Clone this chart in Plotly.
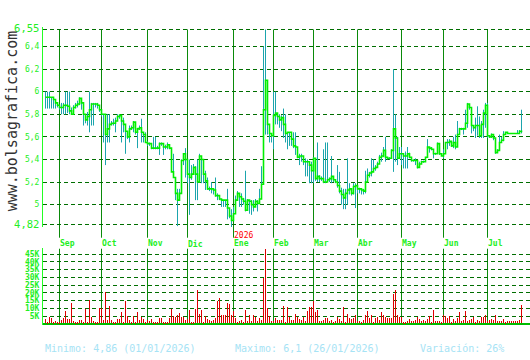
import plotly.graph_objects as go

# ---------------- data ----------------
close = [5.95, 5.95, 5.95, 5.95, 5.93, 5.90, 5.88, 5.86, 5.86, 5.88,
         5.88, 5.87, 5.83, 5.80, 5.86, 5.88, 5.89, 5.94, 5.90, 5.80,
         5.75, 5.78, 5.84, 5.89, 5.89, 5.89, 5.88, 5.84, 5.80, 5.80,
         5.62, 5.67, 5.71, 5.72, 5.72, 5.74, 5.78, 5.79, 5.74, 5.71,
         5.65, 5.60, 5.67, 5.68, 5.73, 5.64, 5.67, 5.68, 5.64, 5.62,
         5.55, 5.54, 5.54, 5.50, 5.50, 5.50, 5.50, 5.54, 5.54, 5.51,
         5.51, 5.53, 5.50, 5.29, 5.24, 5.10, 5.04, 5.10, 5.39, 5.45,
         5.40, 5.27, 5.24, 5.27, 5.33, 5.27, 5.20, 5.43, 5.40, 5.27,
         5.21, 5.14, 5.14, 5.14, 5.13, 5.08, 5.08, 5.05, 5.04, 5.04,
         5.04, 4.97, 4.90, 4.86, 4.92, 5.04, 5.10, 5.07, 5.05, 5.03,
         4.95, 5.04, 5.03, 5.00, 4.98, 5.03, 5.01, 5.05, 5.18, 5.84,
         6.10, 5.71, 5.63, 5.61, 5.79, 5.81, 5.78, 5.75, 5.77, 5.71,
         5.63, 5.64, 5.64, 5.58, 5.52, 5.51, 5.42, 5.43, 5.43, 5.38,
         5.38, 5.38, 5.35, 5.30, 5.41, 5.23, 5.25, 5.23, 5.23, 5.20,
         5.20, 5.22, 5.23, 5.25, 5.22, 5.20, 5.17, 5.12, 5.09, 5.06,
         5.10, 5.13, 5.14, 5.10, 5.16, 5.17, 5.14, 5.14, 5.13, 5.12,
         5.20, 5.26, 5.28, 5.29, 5.32, 5.33, 5.36, 5.42, 5.43, 5.48,
         5.42, 5.41, 5.41, 5.48, 5.67, 5.59, 5.41, 5.45, 5.45, 5.43,
         5.43, 5.45, 5.42, 5.39, 5.39, 5.39, 5.33, 5.36, 5.38, 5.38,
         5.42, 5.51, 5.50, 5.49, 5.45, 5.45, 5.54, 5.45, 5.43, 5.45,
         5.55, 5.55, 5.56, 5.52, 5.55, 5.51, 5.62, 5.67, 5.67, 5.67,
         5.72, 5.89, 5.86, 5.70, 5.68, 5.70, 5.70, 5.61, 5.71, 5.81,
         5.88, 5.61, 5.60, 5.62, 5.59, 5.46, 5.48, 5.55, 5.57, 5.62,
         5.64, 5.63, 5.63, 5.63, 5.63, 5.63, 5.63, 5.65, 5.64]

high = [6.00, 6.00, 6.00, 5.95, 5.95, 5.90, 5.90, 5.88, 5.90, 5.90,
        6.00, 6.00, 6.00, 5.86, 5.88, 5.90, 5.92, 5.95, 5.94, 5.84,
        5.80, 5.82, 6.00, 5.90, 5.90, 5.90, 5.90, 5.88, 5.82, 5.80,
        5.80, 5.80, 5.80, 5.74, 5.76, 5.77, 5.80, 5.80, 5.74, 5.77,
        5.70, 5.64, 5.70, 5.70, 5.74, 5.66, 5.68, 5.70, 5.76, 5.64,
        5.64, 5.56, 5.55, 5.52, 5.60, 5.60, 5.52, 5.55, 5.55, 5.52,
        5.53, 5.55, 5.52, 5.45, 5.45, 5.10, 5.14, 5.14, 5.40, 5.45,
        5.50, 5.33, 5.40, 5.35, 5.36, 5.34, 5.40, 5.45, 5.40, 5.30,
        5.30, 5.24, 5.16, 5.20, 5.14, 5.24, 5.10, 5.07, 5.04, 5.04,
        5.04, 5.14, 4.96, 4.96, 4.98, 5.08, 5.12, 5.10, 5.10, 5.06,
        5.30, 5.05, 5.04, 5.04, 5.04, 5.05, 5.04, 5.14, 5.34, 6.40,
        6.55, 5.85, 5.65, 5.62, 6.00, 6.00, 5.81, 5.80, 5.79, 5.85,
        5.80, 5.64, 5.64, 5.64, 5.64, 5.64, 5.49, 5.45, 5.45, 5.41,
        5.41, 5.40, 5.35, 5.38, 5.42, 5.41, 5.55, 5.26, 5.25, 5.49,
        5.55, 5.55, 5.24, 5.43, 5.24, 5.22, 5.35, 5.29, 5.15, 5.14,
        5.14, 5.41, 5.19, 5.14, 5.19, 5.19, 5.16, 5.15, 5.14, 5.14,
        5.30, 5.32, 5.29, 5.41, 5.40, 5.35, 5.38, 5.44, 5.46, 5.51,
        5.60, 5.42, 5.42, 5.49, 6.20, 5.80, 5.60, 5.51, 5.51, 5.45,
        5.47, 5.51, 5.46, 5.41, 5.40, 5.41, 5.39, 5.38, 5.39, 5.39,
        5.42, 5.58, 5.51, 5.51, 5.48, 5.46, 5.55, 5.46, 5.45, 5.49,
        5.55, 5.58, 5.58, 5.53, 5.60, 5.62, 5.74, 5.68, 5.68, 5.68,
        5.84, 5.90, 5.88, 5.77, 5.70, 5.77, 5.87, 5.78, 5.74, 5.84,
        5.90, 5.90, 5.61, 5.63, 5.60, 5.59, 5.49, 5.62, 5.60, 5.65,
        5.64, 5.63, 5.63, 5.63, 5.63, 5.63, 5.66, 5.66, 5.84]

low = [5.85, 5.85, 5.85, 5.85, 5.85, 5.85, 5.86, 5.84, 5.80, 5.80,
       5.80, 5.81, 5.80, 5.80, 5.84, 5.85, 5.86, 5.88, 5.84, 5.70,
       5.72, 5.70, 5.64, 5.70, 5.70, 5.86, 5.85, 5.82, 5.78, 5.55,
       5.35, 5.55, 5.55, 5.70, 5.70, 5.64, 5.76, 5.76, 5.55, 5.64,
       5.45, 5.58, 5.55, 5.66, 5.64, 5.62, 5.50, 5.66, 5.55, 5.55,
       5.55, 5.52, 5.52, 5.49, 5.49, 5.49, 5.49, 5.44, 5.52, 5.44,
       5.49, 5.49, 5.49, 5.29, 5.24, 5.04, 4.81, 5.04, 5.24, 5.35,
       5.24, 5.19, 4.91, 5.22, 5.30, 5.04, 5.04, 5.40, 5.19, 5.19,
       5.13, 5.13, 5.12, 5.10, 5.09, 5.07, 5.04, 5.04, 4.98, 4.98,
       4.98, 4.87, 4.88, 4.80, 4.87, 4.94, 5.08, 4.98, 4.98, 5.00,
       4.94, 4.98, 4.92, 4.91, 4.94, 5.00, 4.94, 5.02, 5.05, 5.21,
       5.62, 5.62, 5.55, 5.55, 5.49, 5.71, 5.71, 5.68, 5.65, 5.59,
       5.55, 5.49, 5.52, 5.52, 5.50, 5.44, 5.41, 5.35, 5.38, 5.35,
       5.25, 5.25, 5.19, 5.19, 5.19, 5.21, 5.20, 5.20, 5.21, 5.19,
       5.19, 5.20, 5.20, 5.19, 5.20, 5.19, 5.15, 5.10, 5.00, 4.96,
       4.96, 5.00, 5.09, 5.08, 5.09, 4.97, 5.10, 5.10, 5.09, 5.09,
       5.10, 5.22, 5.24, 5.25, 5.29, 5.30, 5.35, 5.40, 5.38, 5.42,
       5.38, 5.40, 5.40, 5.41, 5.29, 5.38, 5.35, 5.41, 5.35, 5.32,
       5.32, 5.32, 5.41, 5.38, 5.38, 5.35, 5.32, 5.35, 5.37, 5.37,
       5.38, 5.48, 5.46, 5.48, 5.41, 5.44, 5.45, 5.44, 5.43, 5.41,
       5.45, 5.49, 5.52, 5.51, 5.50, 5.49, 5.55, 5.62, 5.66, 5.62,
       5.68, 5.68, 5.84, 5.63, 5.65, 5.59, 5.61, 5.59, 5.59, 5.59,
       5.68, 5.59, 5.59, 5.59, 5.57, 5.45, 5.46, 5.55, 5.55, 5.56,
       5.64, 5.63, 5.63, 5.63, 5.63, 5.63, 5.63, 5.63, 5.63]

volume_k = [2.5, 0.5, 4, 3.5, 1, 1.5, 1, 0.5, 2, 3.5,
            8, 3, 2.5, 13, 1.5, 1, 1, 2, 2, 1,
            9, 1, 15, 4, 1.5, 1, 1, 10, 10, 2,
            20.5, 2, 11, 2, 1, 1, 2.5, 2.5, 7.5, 1,
            14.5, 5, 2, 1, 5, 1, 7.5, 2, 4, 3,
            1, 2, 1.5, 2.5, 0.5, 0.5, 0.5, 3.5, 3.5, 1,
            1, 1, 3.5, 9, 4.5, 4, 5.5, 6.5, 4, 3.8,
            2, 3, 8.4, 0.5, 1, 9, 21.7, 6.3, 8.4, 1,
            4.8, 2.7, 2, 1.7, 2.3, 3.4, 14.7, 16.4, 5.5, 5.3,
            5.3, 13.2, 12.6, 5.5, 8, 3.4, 0.6, 1.3, 2, 1,
            8.4, 1.3, 5.3, 1.3, 5.5, 3.8, 1.3, 3.2, 2.3, 29,
            48, 10, 4.4, 1.7, 1.7, 3.2, 2, 2, 2, 11,
            0.6, 10.5, 3.8, 2, 2, 6.3, 3.8, 3, 2, 4.2,
            1.3, 8, 10.5, 10.5, 14.3, 7.6, 8.4, 1.3, 1.7, 2,
            3.4, 3.4, 1.3, 2, 0.6, 1.3, 3.8, 3, 1.7, 10.5,
            0.6, 6.3, 3.4, 2.5, 3.2, 5.5, 1.3, 1.3, 0.6, 2,
            5.3, 8, 3.4, 5.5, 0.6, 3.4, 3.8, 2, 7.6, 5.5,
            3.8, 3.4, 3.4, 3.4, 19, 21.7, 5.5, 3.8, 3.8, 0.6,
            0.6, 1.3, 2.5, 1.7, 1.7, 2, 3.8, 2.7, 1.3, 2,
            1.3, 2.7, 4.4, 0.6, 8.4, 1.3, 1.3, 1.3, 0.6, 5.5,
            4.8, 3.2, 4.8, 0.6, 2.5, 1.3, 3.2, 7.6, 1.3, 2,
            8, 1.3, 2, 2.7, 4.2, 0.6, 2, 1.3, 4.2, 3.8,
            5.5, 1.3, 2, 2.5, 2, 5.5, 1.3, 1.3, 1.3, 2.5,
            0.6, 1.3, 1.3, 1.3, 1.3, 1.3, 1.7, 2, 11.8]

month_names = ["Sep", "Oct", "Nov", "Dic", "Ene", "Feb", "Mar", "Abr", "May", "Jun", "Jul"]
month_start = [7, 28, 51, 71, 94, 114, 134, 156, 178, 199, 221]
year_label = "2026"
year_month = "Ene"

price_ticks = [4.82, 5.0, 5.2, 5.4, 5.6, 5.8, 6.0, 6.2, 6.4, 6.55]
price_labels = ["4,82", "5", "5,2", "5,4", "5,6", "5,8", "6", "6,2", "6,4", "6,55"]
vol_ticks = [5, 10, 15, 20, 25, 30, 35, 40, 45]
vol_labels = ["5K", "10K", "15K", "20K", "25K", "30K", "35K", "40K", "45K"]

footer_min = "Minimo: 4,86 (01/01/2026)"
footer_max = "Maximo: 6,1 (26/01/2026)"
footer_var = "Variación: 26%"
watermark = "www.bolsagrafica.com"

# ---------------- styles ----------------
W, H = 530, 360
MONO = "DejaVu Sans Mono"
LABEL_GREEN = "#22ee22"
GRID_GREEN = "#006e00"
MONTH_GREEN = "#0a8a0a"
TEAL = "#1ba5ad"
CLOSE_GREEN = "#00ee00"
VOL_RED = "#dd0000"

idx = list(range(len(close)))


def py(px):  # pixel row -> paper y
    return 1 - px / H


# price panel pixel geometry
p_top_px, p_bot_px = 25, 225
ppu = (p_bot_px - p_top_px) / (price_ticks[-1] - price_ticks[0])
pad = 2
p_range = [price_ticks[0] - pad / ppu, price_ticks[-1] + pad / ppu]
# volume panel geometry
v_zero_px, v_top_px = 326, 249
vpk = 1.585
v_range = [-1 / vpk, (v_zero_px - v_top_px) / vpk]

x_range = [-1.25, -1.25 + (W - 43) / 2]

fig = go.Figure()

hx, hy = [], []
for i, lo, hi in zip(idx, low, high):
    hx += [i, i, None]
    hy += [lo, hi, None]
fig.add_trace(go.Scatter(x=hx, y=hy, mode="lines", line=dict(color=TEAL, width=1),
                         hoverinfo="skip", xaxis="x", yaxis="y"))
fig.add_trace(go.Scatter(x=idx, y=close, mode="lines",
                         line=dict(color=CLOSE_GREEN, width=1.6, shape="hv"),
                         xaxis="x", yaxis="y"))
fig.add_trace(go.Bar(x=idx, y=volume_k, width=0.5, marker=dict(color=VOL_RED, line=dict(width=0)),
                     xaxis="x2", yaxis="y2"))

big = '<span style="font-size:10.5px">%s</span>'
ptext = [big % t if k in (0, len(price_labels) - 1) else t for k, t in enumerate(price_labels)]

axis_common = dict(showgrid=False, showticklabels=False, zeroline=False, showline=False,
                   range=x_range, domain=[43 / W, 1], fixedrange=True)

shapes = []
for m in month_start:
    shapes.append(dict(type="line", xref="x", yref="paper", x0=m, x1=m,
                       y0=py(238), y1=py(p_top_px), line=dict(color=MONTH_GREEN, width=1),
                       layer="below"))
    shapes.append(dict(type="line", xref="x2", yref="y2", x0=m, x1=m,
                       y0=0, y1=v_range[1], line=dict(color=MONTH_GREEN, width=1),
                       layer="below"))

annotations = []
for name, m in zip(month_names, month_start):
    annotations.append(dict(text=name, x=m, xref="x", y=py(244), yref="paper",
                            xanchor="left", yanchor="middle", showarrow=False, xshift=-2,
                            font=dict(family=MONO, size=8, color=LABEL_GREEN, weight="bold")))
annotations.append(dict(text=year_label, x=month_start[month_names.index(year_month)], xref="x",
                        y=py(236), yref="paper", xanchor="left", yanchor="middle",
                        showarrow=False, xshift=-2,
                        font=dict(family=MONO, size=8, color="#ff0000")))
annotations.append(dict(text=watermark, x=12 / W, xref="paper", y=py(119), yref="paper",
                        textangle=-90, showarrow=False, xanchor="center", yanchor="middle",
                        font=dict(family=MONO, size=15, color="#333333")))
for txt, xp in ((footer_min, 45), (footer_max, 235), (footer_var, 420)):
    annotations.append(dict(text=txt, x=xp / W, xref="paper", y=py(351), yref="paper",
                            xanchor="left", yanchor="middle", showarrow=False, xshift=-2,
                            font=dict(family=MONO, size=10, color="#a6e3f5")))

fig.update_layout(
    width=W, height=H, margin=dict(l=0, r=0, t=0, b=0),
    paper_bgcolor="white", plot_bgcolor="rgba(0,0,0,0)", showlegend=False,
    bargap=0,
    xaxis=dict(anchor="y", **axis_common),
    xaxis2=dict(anchor="y2", **axis_common),
    yaxis=dict(domain=[py(p_bot_px + pad), py(p_top_px - pad)], range=p_range,
               tickvals=price_ticks, ticktext=ptext, ticks="", ticklabelstandoff=1,
               tickfont=dict(family=MONO, size=8, color=LABEL_GREEN),
               showgrid=True, gridcolor=GRID_GREEN, gridwidth=1, griddash="4px,3px",
               showline=True, linecolor="#22ff22", linewidth=1, zeroline=False, fixedrange=True),
    yaxis2=dict(domain=[py(v_zero_px + 1), py(v_top_px)], range=v_range,
                tickvals=vol_ticks, ticktext=vol_labels, ticks="", ticklabelstandoff=1,
                tickfont=dict(family=MONO, size=8, color=LABEL_GREEN, weight="bold"),
                showgrid=True, gridcolor=GRID_GREEN, gridwidth=1, griddash="4px,3px",
                showline=True, linecolor="#22ff22", linewidth=1,
                zeroline=True, zerolinecolor="#00bb00", zerolinewidth=2, fixedrange=True),
    shapes=shapes, annotations=annotations,
)

fig.write_html("out.html")
